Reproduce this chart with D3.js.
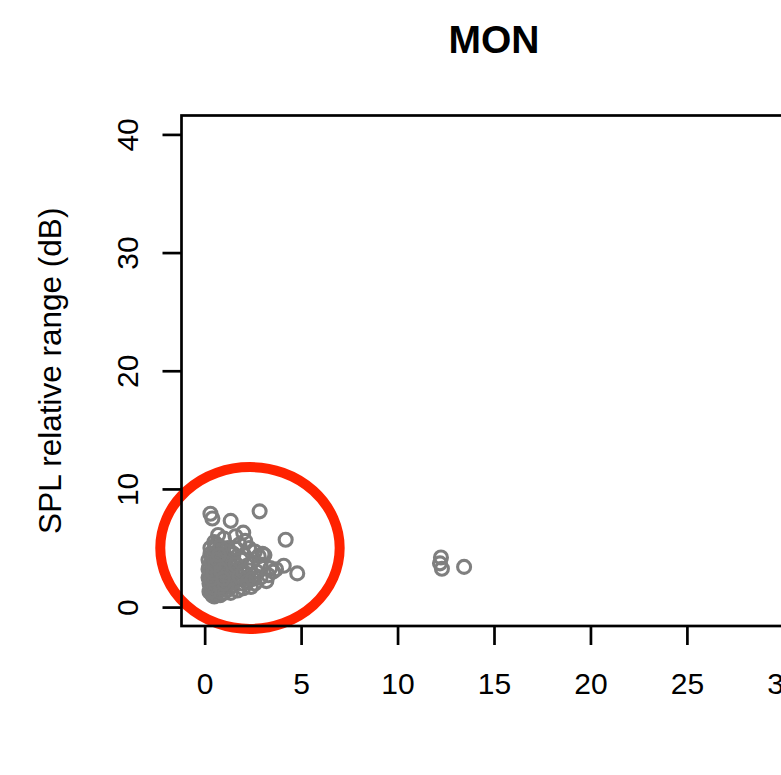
<!DOCTYPE html>
<html>
<head>
<meta charset="utf-8">
<script src="https://cdn.jsdelivr.net/npm/d3@7"></script>
<style>
  html, body { margin: 0; padding: 0; background: #fff; }
  svg { display: block; font-family: "Liberation Sans", Arial, Helvetica, sans-serif; }
</style>
</head>
<body>
<svg id="chart" width="781" height="775"></svg>
<script>
// Chart title and axis text
const title = "MON";
const yLabel = "SPL relative range (dB)";
const xTicks = [0, 5, 10, 15, 20, 25, 30];
const yTicks = [0, 10, 20, 30, 40];

// Observations: x value and SPL relative range (dB)
const xs = [
  0.3, 0.4, 1.35, 2.85, 2.0, 1.6, 4.2, 1.0, 0.7, 0.5,
  1.8, 2.3, 2.6, 3.0, 2.8, 3.1, 3.55, 4.1, 4.8, 3.4,
  2.9, 2.6, 2.4, 2.0, 1.7, 1.4, 3.2, 2.7, 2.2, 2.1,
  1.9, 1.5, 1.2, 0.9, 0.6, 0.3, 0.2, 0.25, 0.3, 0.2,
  0.25, 0.3, 0.35, 0.4, 0.5, 0.6, 0.7, 0.8, 0.9, 1.0,
  1.1, 1.2, 1.3, 0.4, 0.5, 0.6, 0.7, 0.8, 0.45, 0.55,
  0.35, 0.5, 0.65, 0.75, 0.85, 0.95, 1.05, 1.15, 1.25, 1.35,
  1.45, 1.55, 1.65, 1.75, 1.85, 1.95, 2.05, 2.15, 2.3, 2.45,
  2.55, 0.3, 0.4, 0.2, 0.3, 0.45, 0.55, 0.65, 0.75, 0.85,
  0.95, 1.05, 1.15, 1.25, 1.35, 1.5, 0.3, 0.35, 0.5, 0.6,
  0.8, 1.0, 1.3, 1.6, 2.1, 0.7, 0.9, 1.1, 0.4, 0.6,
  0.8, 1.0, 1.2, 1.4, 1.6, 1.8, 2.0, 2.2, 2.5, 2.9,
  3.3, 3.7, 0.25, 0.35, 0.45, 0.55, 0.65, 0.75, 0.85, 0.95,
  12.25, 12.2, 12.3, 13.45
];
const ys = [
  7.9, 7.5, 7.3, 8.1, 6.3, 6.0, 5.7, 5.8, 6.1, 5.5,
  5.3, 5.0, 4.7, 4.5, 4.3, 4.4, 3.0, 3.5, 2.85, 3.3,
  2.5, 2.0, 1.7, 1.6, 1.4, 1.8, 2.2, 3.0, 3.5, 2.8,
  4.0, 4.5, 5.0, 4.8, 4.6, 4.5, 4.0, 3.5, 3.0, 2.5,
  2.0, 1.5, 1.2, 1.0, 0.9, 1.1, 1.3, 1.0, 1.5, 1.2,
  1.7, 2.0, 2.4, 2.2, 2.8, 3.2, 3.6, 4.0, 3.9, 4.2,
  1.8, 1.6, 2.0, 2.4, 2.8, 3.2, 3.6, 4.1, 3.0, 2.6,
  3.4, 3.8, 2.9, 2.3, 3.3, 2.0, 4.4, 2.4, 3.1, 3.8,
  2.7, 5.0, 4.3, 3.2, 2.7, 3.4, 2.5, 2.9, 3.3, 3.7,
  4.3, 2.6, 2.2, 1.5, 1.2, 2.1, 2.1, 3.8, 4.9, 5.3,
  5.1, 4.4, 4.7, 5.0, 5.6, 2.6, 2.1, 3.1, 1.4, 1.9,
  1.7, 2.0, 2.7, 3.1, 3.6, 2.6, 3.0, 2.1, 2.4, 3.6,
  2.7, 3.2, 1.3, 2.4, 2.9, 3.6, 4.0, 4.4, 3.1, 2.4,
  4.2, 3.7, 3.25, 3.4
];

// Highlighted region (data units): centre and radii of the ring
const ringCentre = [2.35, 5.0];
const ringRadii = [4.65, 6.85];

const svg = d3.select("#chart");

// Plot region; x and y limits padded by 4% beyond the data range
const plot = { left: 181.5, right: 806.5, top: 115.5, bottom: 626 };
const x = d3.scaleLinear().domain([-1.2, 31.2]).range([plot.left, plot.right]);
const y = d3.scaleLinear().domain([-1.6, 41.6]).range([plot.bottom, plot.top]);

const ink = "#000";
const lw = 2.7;
const fontSize = 30;

// Title
svg.append("text")
  .attr("x", (plot.left + plot.right) / 2)
  .attr("y", 53)
  .attr("text-anchor", "middle")
  .attr("font-size", 39)
  .attr("font-weight", "bold")
  .attr("fill", ink)
  .text(title);

// Points
const points = xs.map((v, i) => [v, ys[i]]);
svg.append("g")
  .selectAll("circle")
  .data(points)
  .join("circle")
  .attr("cx", d => x(d[0]))
  .attr("cy", d => y(d[1]))
  .attr("r", 6.5)
  .attr("fill", "none")
  .attr("stroke", "#7f7f7f")
  .attr("stroke-width", 3.1);

// Highlight ring
svg.append("ellipse")
  .attr("cx", x(ringCentre[0]))
  .attr("cy", y(ringCentre[1]))
  .attr("rx", x(ringCentre[0] + ringRadii[0]) - x(ringCentre[0]))
  .attr("ry", y(ringCentre[1]) - y(ringCentre[1] + ringRadii[1]))
  .attr("fill", "none")
  .attr("stroke", "#ff2200")
  .attr("stroke-width", 10);

// Plot frame
svg.append("rect")
  .attr("x", plot.left)
  .attr("y", plot.top)
  .attr("width", plot.right - plot.left)
  .attr("height", plot.bottom - plot.top)
  .attr("fill", "none")
  .attr("stroke", ink)
  .attr("stroke-width", lw);

// X axis
const xAxis = d3.axisBottom(x)
  .tickValues(xTicks)
  .tickSize(19)
  .tickPadding(26)
  .tickFormat(d3.format("d"));
const gx = svg.append("g")
  .attr("transform", `translate(0,${plot.bottom})`)
  .call(xAxis);
gx.select(".domain").remove();
gx.selectAll(".tick line").attr("stroke", ink).attr("stroke-width", lw);
gx.selectAll(".tick text")
  .attr("font-size", fontSize)
  .attr("font-family", "Liberation Sans, Arial, sans-serif")
  .attr("fill", ink)
  .attr("dy", "0.78em");

// Y axis
const yAxis = d3.axisLeft(y)
  .tickValues(yTicks)
  .tickSize(19)
  .tickFormat(d3.format("d"));
const gy = svg.append("g")
  .attr("transform", `translate(${plot.left},0)`)
  .call(yAxis);
gy.select(".domain").remove();
gy.selectAll(".tick line").attr("stroke", ink).attr("stroke-width", lw);
gy.selectAll(".tick text")
  .attr("x", null)
  .attr("dy", null)
  .attr("font-size", fontSize)
  .attr("font-family", "Liberation Sans, Arial, sans-serif")
  .attr("fill", ink)
  .attr("text-anchor", "middle")
  .attr("transform", "translate(-44,0) rotate(-90)");

// Y axis label
svg.append("text")
  .attr("transform", `translate(61,${(plot.top + plot.bottom) / 2}) rotate(-90)`)
  .attr("text-anchor", "middle")
  .attr("font-size", 31.5)
  .attr("fill", ink)
  .text(yLabel);
</script>
</body>
</html>
